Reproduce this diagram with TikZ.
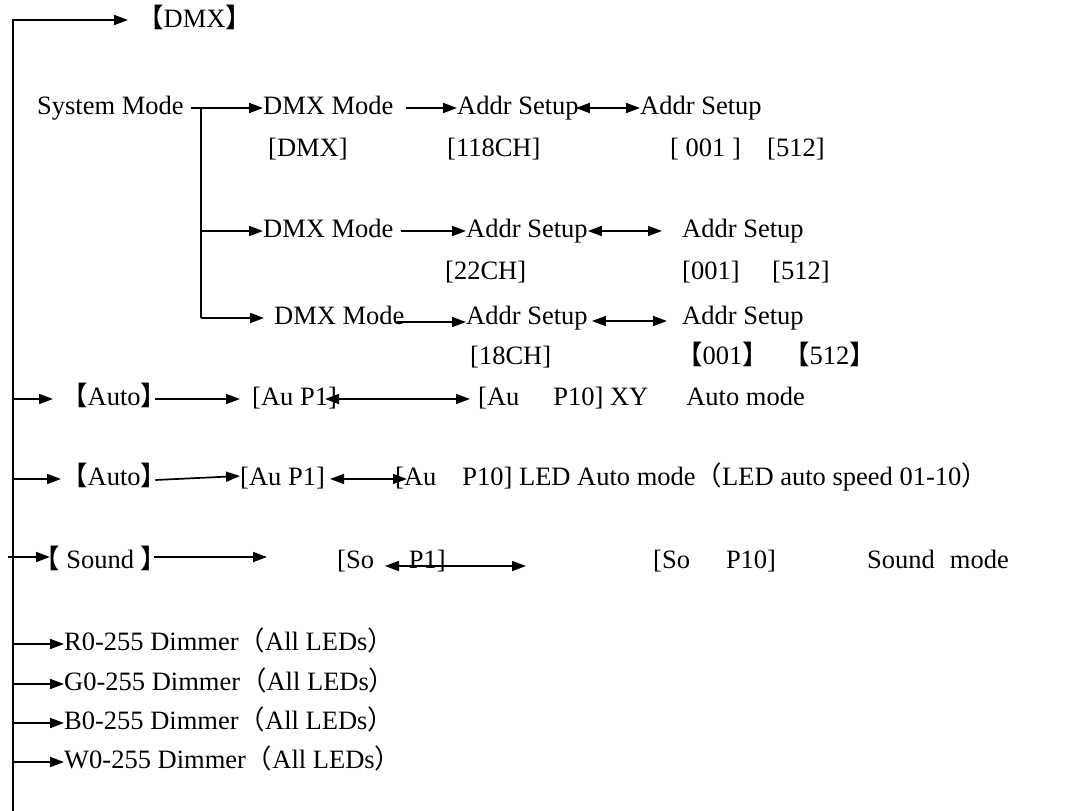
\documentclass[tikz,border=0pt]{standalone}
\usepackage{fontspec}
\setmainfont{Liberation Serif}
\newfontfamily\cjk{Noto Sans CJK SC}
\usetikzlibrary{arrows.meta}
\newcommand{\bkL}{{\cjk 【}}
\newcommand{\bkR}{{\cjk 】}}
\newcommand{\paL}{{\cjk （}}
\newcommand{\paR}{{\cjk ）}}

\begin{document}
\begin{tikzpicture}[x=1pt, y=-1pt,
  txt/.style={anchor=west, inner xsep=0pt, inner ysep=0pt, text height=19pt,
              text depth=6pt, font=\fontsize{26.5}{32}\selectfont},
  lnk/.style={line width=1.7pt, -{Triangle[length=14pt,width=10pt]}},
  dbl/.style={line width=1.7pt, {Triangle[length=14pt,width=10pt]}-{Triangle[length=14pt,width=10pt]}},
  bar/.style={line width=1.7pt}
]
  \useasboundingbox (0,0) rectangle (1071,811);

  % DMX branch
  \node[txt] (dmx)   at (137,21)  {\bkL DMX\bkR};
  \node[txt] (sys)   at (37,108)  {System Mode};
  \node[txt] (dmxa)  at (263,108) {DMX Mode};
  \node[txt] (adra)  at (457,108) {Addr Setup};
  \node[txt] (adrb)  at (640,108) {Addr Setup};
  \node[txt] (cha)   at (268,150) {[DMX]};
  \node[txt] (chb)   at (447,150) {[118CH]};
  \node[txt] (lowa)  at (670,150) {[ 001 ]};
  \node[txt] (higha) at (767,150) {[512]};

  \node[txt] (dmxb)  at (263,231) {DMX Mode};
  \node[txt] (adrc)  at (466,231) {Addr Setup};
  \node[txt] (adrd)  at (682,231) {Addr Setup};
  \node[txt] (chc)   at (445,273) {[22CH]};
  \node[txt] (lowb)  at (682,273) {[001]};
  \node[txt] (highb) at (772,273) {[512]};

  \node[txt] (dmxc)  at (274,318) {DMX Mode};
  \node[txt] (adre)  at (466,318) {Addr Setup};
  \node[txt] (adrf)  at (682,318) {Addr Setup};
  \node[txt] (chd)   at (470,358) {[18CH]};
  \node[txt] (lowc)  at (676,358) {\bkL 001\bkR};
  \node[txt] (highc) at (783,358) {\bkL 512\bkR};

  % auto, sound
  \node[txt] (auto)  at (61,399)  {\bkL Auto\bkR};
  \node[txt] (aua)   at (252,399) {[Au P1]};
  \node[txt] (aub)   at (478,399) {[Au\hspace{34pt}P10] XY\hspace{38pt}Auto mode};

  \node[txt] (autob) at (61,479)  {\bkL Auto\bkR};
  \node[txt] (auc)   at (240,479) {[Au P1]};
  \node[txt] (aud)   at (395,479) {[Au\hspace{26pt}P10] LED Auto mode\paL LED auto speed 01-10\paR};

  \node[txt] (snd)   at (33,562)  {\bkL{} Sound \bkR};
  \node[txt] (soa)   at (337,562) {[So\hspace{35pt}P1]};
  \node[txt] (sob)   at (653,562) {[So\hspace{36pt}P10]};
  \node[txt] (sndm)  at (867,562) {Sound\hspace{15pt}mode};

  \coordinate (spine)    at (13,20);
  \coordinate (spineend) at (13,811);
  \coordinate (fork)     at (201,108);
  \coordinate (tick)     at (8,557);
  \coordinate (sndtip)   at (267,557);

  \draw[lnk] (spineend) -- (spine) -- ([xshift=-9pt]spine -| dmx.west);

  \draw[lnk] ([xshift=7pt]sys.east) -- (dmxa.west);
  \draw[bar] (fork) -- (fork |- dmxc.west);
  \draw[lnk] (fork |- dmxb.west) -- (dmxb.west);
  \draw[lnk] (fork |- dmxc.west) -- ([xshift=-10pt]dmxc.west);

  \draw[lnk] ([xshift=12pt]dmxa.east) -- (adra.west);
  \draw[dbl] ([xshift=-3pt]adra.east) -- (adrb.west);
  \draw[lnk] ([xshift=7pt]dmxb.east) -- (adrc.west);
  \draw[dbl] (adrc.east) -- ([xshift=-20pt]adrd.west);
  \draw[lnk] ([shift={(-8pt,-4pt)}]dmxc.east) -- ([yshift=-4pt]adre.west);
  \draw[dbl] ([shift={(4pt,-3pt)}]adre.east) -- ([shift={(-15pt,-3pt)}]adrf.west);

  \draw[lnk] (spine |- auto.west) -- ([xshift=-8pt]auto.west);
  \draw[lnk] ([xshift=-12pt]auto.east) -- ([xshift=-12pt]aua.west);
  \draw[dbl] ([xshift=-12pt]aua.east) -- ([xshift=-8pt]aub.west);

  \draw[lnk] (spine |- autob.west) -- (autob.west);
  \draw[lnk] ([shift={(-12pt,-1pt)}]autob.east) -- ([yshift=3pt]auc.west);
  \draw[dbl] ([xshift=5pt]auc.east) -- ([xshift=12pt]aud.west);

  \draw[lnk] (tick) -- ([shift={(17pt,5pt)}]snd.west);
  \draw[lnk] ([shift={(-13pt,5pt)}]snd.east) -- (sndtip);
  \draw[dbl] ([shift={(48pt,-4pt)}]soa.west) -- ([shift={(80pt,-4pt)}]soa.east);

  % dimmers
  \foreach \c/\y/\n in {R/644/dr, G/684/dg, B/723/db, W/762/dw} {
    \node[txt] (\n) at (64,\y) {\c0-255 Dimmer\paL All LEDs\paR};
    \draw[lnk] (spine |- \n.west) -- (\n.west);
  }
\end{tikzpicture}
\end{document}
